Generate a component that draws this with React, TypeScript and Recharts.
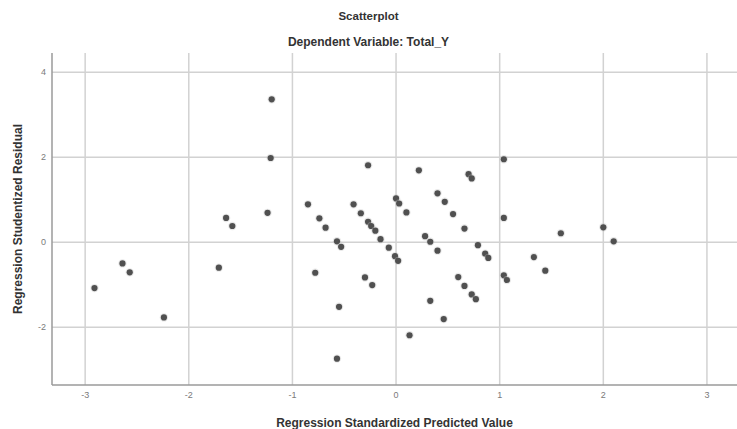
import React from "react";
import { ScatterChart, Scatter, XAxis, YAxis, CartesianGrid, Label } from "recharts";

const predicted: number[] = [
  -2.91, -2.64, -2.57, -2.24, -1.71, -1.64, -1.58, -1.24, -1.21, -1.2,
  -0.85, -0.74, -0.68, -0.78, -0.57, -0.53, -0.55, -0.57, -0.41, -0.34,
  -0.27, -0.24, -0.2, -0.15, -0.07, -0.01, 0.02, -0.27, -0.3, -0.23,
  0.0, 0.03, 0.1, 0.13, 0.22, 0.28, 0.33, 0.4, 0.33, 0.46,
  0.4, 0.47, 0.55, 0.66, 0.7, 0.73, 0.79, 0.86, 0.89, 0.6,
  0.66, 0.73, 0.77, 1.04, 1.04, 1.04, 1.07, 1.33, 1.44, 1.59,
  2.0, 2.1,
];

const residual: number[] = [
  -1.08, -0.5, -0.71, -1.77, -0.6, 0.57, 0.38, 0.69, 1.98, 3.36,
  0.89, 0.56, 0.34, -0.72, 0.02, -0.11, -1.52, -2.74, 0.89, 0.68,
  0.48, 0.38, 0.27, 0.07, -0.13, -0.33, -0.44, 1.81, -0.83, -1.01,
  1.03, 0.91, 0.7, -2.19, 1.69, 0.14, 0.01, -0.2, -1.38, -1.81,
  1.15, 0.95, 0.66, 0.32, 1.6, 1.5, -0.07, -0.27, -0.37, -0.82,
  -1.03, -1.23, -1.34, 1.95, 0.57, -0.78, -0.89, -0.35, -0.67, 0.21,
  0.35, 0.02,
];

const xTicks: number[] = [-3, -2, -1, 0, 1, 2, 3];
const yTicks: number[] = [-2, 0, 2, 4];

const points = predicted.map((x, i) => ({ x, y: residual[i] }));

const FONT = '"Liberation Sans", Arial, sans-serif';

const Dot = (props: any) => {
  const { cx, cy } = props;
  if (cx == null || cy == null) return null;
  return (
    <g>
      <circle cx={cx} cy={cy} r={4.2} fill="#bdbdbd" opacity={0.35} />
      <circle cx={cx} cy={cy} r={3.1} fill="#505050" />
    </g>
  );
};

export default function App() {
  return (
    <div style={{ position: "absolute", left: 0, top: 0, width: 737, height: 429, background: "#fff", fontFamily: FONT }}>
      <div style={{ position: "absolute", left: 0, width: 737, top: 10, textAlign: "center", fontSize: 11.5, fontWeight: "bold", color: "#333" }}>
        Scatterplot
      </div>
      <div style={{ position: "absolute", left: 0, width: 737, top: 35, textAlign: "center", fontSize: 12, fontWeight: "bold", color: "#333" }}>
        Dependent Variable: Total_Y
      </div>
      <div style={{ position: "absolute", left: 0, top: 0 }}>
        <ScatterChart width={737} height={429} margin={{ top: 53, right: 0, bottom: 0, left: 0 }}>
          <CartesianGrid
            stroke="#d2d2d2"
            strokeWidth={1.5}
            horizontalValues={yTicks}
            verticalValues={xTicks}
          />
          <XAxis
            type="number"
            dataKey="x"
            domain={[-3.32, 3.29]}
            ticks={xTicks}
            allowDataOverflow
            height={44}
            axisLine={{ stroke: "#9a9a9a", strokeWidth: 1.5 }}
            tickLine={false}
            tickSize={5}
            tick={{ fill: "#7a7a7a", fontSize: 9, fontFamily: FONT }}
          >
            <Label
              value="Regression Standardized Predicted Value"
              position="insideBottom"
              offset={2}
              style={{ fill: "#333", fontSize: 12, fontWeight: "bold", fontFamily: FONT }}
            />
          </XAxis>
          <YAxis
            type="number"
            dataKey="y"
            domain={[-3.36, 4.45]}
            ticks={yTicks}
            allowDataOverflow
            width={52}
            axisLine={{ stroke: "#9a9a9a", strokeWidth: 1.5 }}
            tickLine={false}
            tickSize={4}
            tick={{ fill: "#7a7a7a", fontSize: 9, fontFamily: FONT }}
          >
            <Label
              value="Regression Studentized Residual"
              angle={-90}
              position="insideLeft"
              offset={18}
              style={{ textAnchor: "middle", fill: "#333", fontSize: 12, fontWeight: "bold", fontFamily: FONT }}
            />
          </YAxis>
          <Scatter data={points} shape={<Dot />} isAnimationActive={false} />
        </ScatterChart>
      </div>
    </div>
  );
}
